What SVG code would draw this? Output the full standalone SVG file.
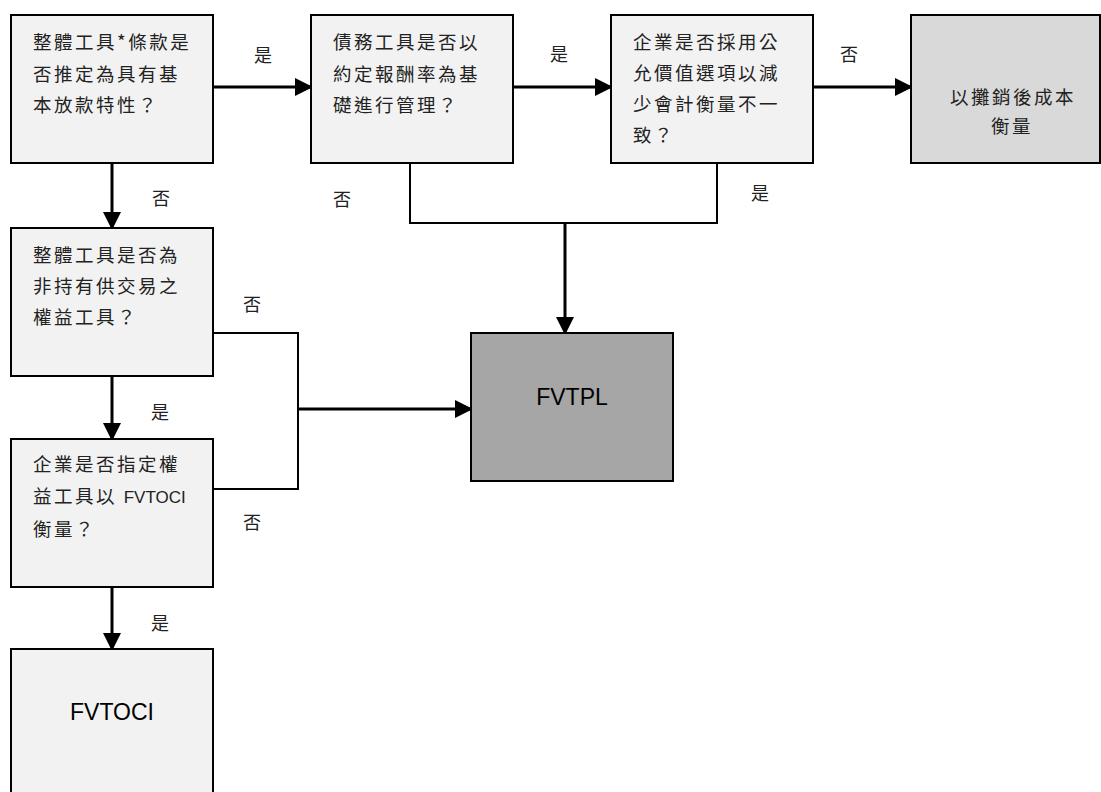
<svg xmlns="http://www.w3.org/2000/svg" width="1101" height="792" viewBox="0 0 1101 792">
<style>
.box{fill:#f2f2f2;stroke:#000;stroke-width:2}
.t{font-family:"Noto Sans CJK TC","Noto Sans CJK JP",sans-serif;font-size:18.5px;letter-spacing:2.5px;fill:#222}
.lbl{font-family:"Noto Sans CJK TC",sans-serif;font-size:18px;fill:#222;text-anchor:middle}
.en{font-family:"Liberation Sans","Noto Sans CJK TC",sans-serif;font-size:17px;letter-spacing:0}
.big{font-family:"Liberation Sans",sans-serif;font-size:23px;fill:#000;text-anchor:middle}
.arr{fill:none;stroke:#000;stroke-width:3;marker-end:url(#ah)}
.ln{fill:none;stroke:#000;stroke-width:2}
</style>
<defs>
<marker id="ah" markerWidth="6" markerHeight="6" refX="5" refY="3" orient="auto" markerUnits="strokeWidth" viewBox="0 0 6 6">
<path d="M0,0 L6,3 L0,6 Z" fill="#000"/>
</marker>
</defs>
<rect width="1101" height="792" fill="#fff"/>
<g id="connectors">
<path class="arr" d="M213,87 H310"/>
<path class="arr" d="M513,87 H610"/>
<path class="arr" d="M813,87 H910"/>
<path class="arr" d="M112,163 V227"/>
<path class="arr" d="M112,376 V438"/>
<path class="arr" d="M112,587 V648"/>
<path class="ln" d="M410,163 V223 H717 V163"/>
<path class="arr" d="M565,223 V332"/>
<path class="ln" d="M213,333 H298 V489 H213"/>
<path class="arr" d="M298,409 H470"/>
<text class="lbl" x="263" y="62">是</text>
<text class="lbl" x="559" y="61">是</text>
<text class="lbl" x="849" y="61">否</text>
<text class="lbl" x="161" y="205">否</text>
<text class="lbl" x="342" y="206">否</text>
<text class="lbl" x="760" y="200">是</text>
<text class="lbl" x="252" y="311">否</text>
<text class="lbl" x="160" y="419">是</text>
<text class="lbl" x="252" y="529">否</text>
<text class="lbl" x="160" y="630">是</text>
</g>
<g id="node1">
<rect class="box" x="11" y="15" width="202" height="148"/>
<text class="t" x="33" y="49">整體工具*條款是</text>
<text class="t" x="33" y="81">否推定為具有基</text>
<text class="t" x="33" y="112">本放款特性？</text>
</g>
<g id="node2">
<rect class="box" x="311" y="15" width="202" height="148"/>
<text class="t" x="333" y="49">債務工具是否以</text>
<text class="t" x="333" y="81">約定報酬率為基</text>
<text class="t" x="333" y="112">礎進行管理？</text>
</g>
<g id="node3">
<rect class="box" x="611" y="15" width="202" height="148"/>
<text class="t" x="633" y="49">企業是否採用公</text>
<text class="t" x="633" y="80">允價值選項以減</text>
<text class="t" x="633" y="111">少會計衡量不一</text>
<text class="t" x="633" y="142">致？</text>
</g>
<g id="node4">
<rect x="911" y="15" width="189" height="148" fill="#d9d9d9" stroke="#000" stroke-width="2"/>
<text class="t" x="1013" y="104" text-anchor="middle">以攤銷後成本</text>
<text class="t" x="1012" y="133" text-anchor="middle">衡量</text>
</g>
<g id="node5">
<rect class="box" x="11" y="228" width="202" height="148"/>
<text class="t" x="33" y="262">整體工具是否為</text>
<text class="t" x="33" y="293">非持有供交易之</text>
<text class="t" x="33" y="324">權益工具？</text>
</g>
<g id="node6">
<rect class="box" x="11" y="439" width="202" height="148"/>
<text class="t" x="33" y="471">企業是否指定權</text>
<text class="t" x="33" y="503">益工具以 <tspan class="en">FVTOCI</tspan></text>
<text class="t" x="33" y="536">衡量？</text>
</g>
<g id="node7">
<rect class="box" x="11" y="649" width="202" height="160"/>
<text class="big" x="112" y="720">FVTOCI</text>
</g>
<g id="node8">
<rect x="471" y="333" width="202" height="148" fill="#a6a6a6" stroke="#000" stroke-width="2"/>
<text class="big" x="572" y="405">FVTPL</text>
</g>
</svg>
